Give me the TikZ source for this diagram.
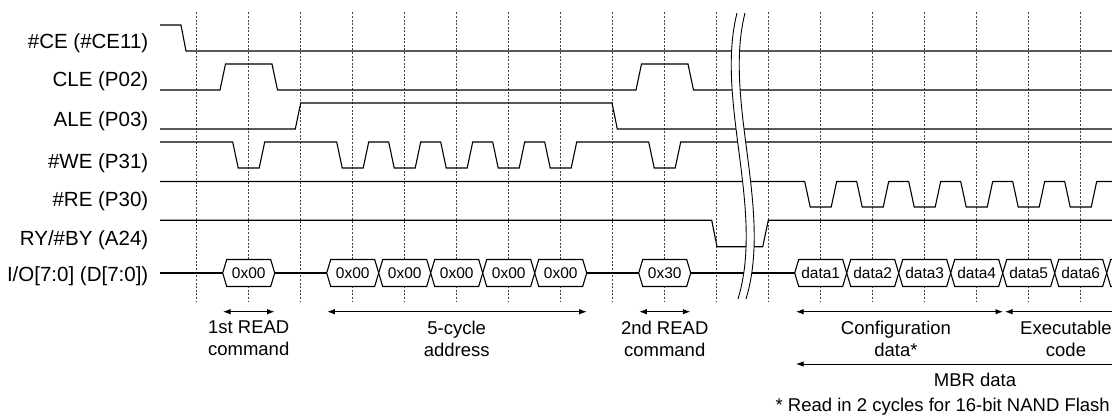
\documentclass[tikz,border=0pt]{standalone}
\usepackage{fontspec}
\setmainfont{Liberation Sans}
\usetikzlibrary{arrows.meta}

\begin{document}
\begin{tikzpicture}[x=1pt, y=-1pt, >={Latex[length=7.5pt,width=5.5pt]},
  sig/.style={line width=1.1pt, line join=miter},
  tick/.style={black!75, line width=0.9pt, dash pattern=on 2pt off 1.6pt},
  lbl/.style={anchor=base east, inner sep=0pt, font=\fontsize{20.5}{24}\selectfont},
  val/.style={inner sep=0pt, font=\fontsize{15.5}{18}\selectfont},
  note/.style={align=center, font=\fontsize{18.5}{22}\selectfont}]
  \useasboundingbox (0,0) rectangle (1112,417);
  \clip (0,0) rectangle (1112,417);
  \fill[white] (0,0) rectangle (1112,417);
  \foreach \k in {0,...,17}
    \draw[tick] (196.7+52*\k,12.5) -- (196.7+52*\k,301);

  \node[lbl] (ce) at (148.5,48.3) {\#CE (\#CE11)};
  \node[lbl] (cle) at (148.5,86.7) {CLE (P02)};
  \node[lbl] (ale) at (148.5,126.7) {ALE (P03)};
  \node[lbl] (we) at (148.5,168.3) {\#WE (P31)};
  \node[lbl] (re) at (148.5,206.7) {\#RE (P30)};
  \node[lbl] (ry) at (148.5,245) {RY/\#BY (A24)};
  \node[lbl] (io) at (148.5,281.7) {I/O[7:0] (D[7:0])};

  \draw[sig] (160,25) -- (181,25) -- (186,51) -- (1112,51);
  \draw[sig] (160,90) -- (220,90) -- (225.5,64) -- (272,64) -- (277.5,90) -- (636,90)
    -- (641.5,64) -- (688,64) -- (693.5,90) -- (1112,90);
  \draw[sig] (160,129) -- (295.3,129) -- (300.7,103) -- (612,103) -- (617.3,129) -- (1112,129);
  \draw[sig] (160,142) \foreach \c in {248.7,352.7,404.7,456.7,508.7,560.7,664.7}
    { -- (\c-16,142) -- (\c-10.5,168) -- (\c+10.5,168) -- (\c+16,142) } -- (1112,142);
  \draw[sig] (160,181.5) \foreach \k in {12,...,17}
    { -- (180.7+52*\k,181.5) -- (186.2+52*\k,207) -- (207.2+52*\k,207) -- (212.7+52*\k,181.5) } -- (1112,181.5);
  \draw[sig] (160,220.3) -- (711.7,220.3) -- (717,246.7) -- (762.7,246.7) -- (768.3,220.3) -- (1112,220.3);

  \draw[sig] (160,273) -- (222.7,273) (274.7,273) -- (326.7,273)
    (586.7,273) -- (638.7,273) (690.7,273) -- (794.7,273);
  \foreach \c/\t [count=\i] in {248.7/0x00, 352.7/0x00, 404.7/0x00, 456.7/0x00, 508.7/0x00,
      560.7/0x00, 664.7/0x30, 820.7/data1, 872.7/data2, 924.7/data3, 976.7/data4,
      1028.7/data5, 1080.7/data6, 1132.7/{}} {
    \draw[sig, fill=white] (\c-26,273) -- (\c-22,259.5) -- (\c+22,259.5) -- (\c+26,273)
      -- (\c+22,286.5) -- (\c-22,286.5) -- cycle;
    \node[val] (val\i) at (\c,273) {\t};
  }

  \fill[white] (737,13) .. controls (715,100) and (765,210) .. (738,299)
    -- (746,299) .. controls (773,210) and (723,100) .. (745,13) -- cycle;
  \draw[line width=0.9pt] (737,13) .. controls (715,100) and (765,210) .. (738,299);
  \draw[line width=0.9pt] (745,13) .. controls (723,100) and (773,210) .. (746,299);

  \draw[<->, line width=0.9pt] (223,311.7) -- (274.5,311.7);
  \draw[<->, line width=0.9pt] (327.3,311.7) -- (586.7,311.7);
  \draw[<->, line width=0.9pt] (639.3,311.7) -- (690.3,311.7);
  \draw[<->, line width=0.9pt] (796,311.7) -- (1003,311.7);
  \draw[<->, line width=0.9pt] (1005,311.7) -- (1130,311.7);
  \draw[<->, line width=0.9pt] (796,364) -- (1130,364);

  \node[note] (cmd1) at (248.7,338.5) {1st READ\\command};
  \node[note] (addr) at (456.7,338.5) {5-cycle\\address};
  \node[note] (cmd2) at (664.7,338.5) {2nd READ\\command};
  \node[note] (cfg) at (896,338.5) {Configuration\\data*};
  \node[note] (exe) at (1066,338.5) {Executable\\code};
  \node[note] (mbr) at (975,379.5) {MBR data};
  \node[note, anchor=base east, inner sep=0pt] (fn) at (1110,411.5) {* Read in 2 cycles for 16-bit NAND Flash};
\end{tikzpicture}
\end{document}
